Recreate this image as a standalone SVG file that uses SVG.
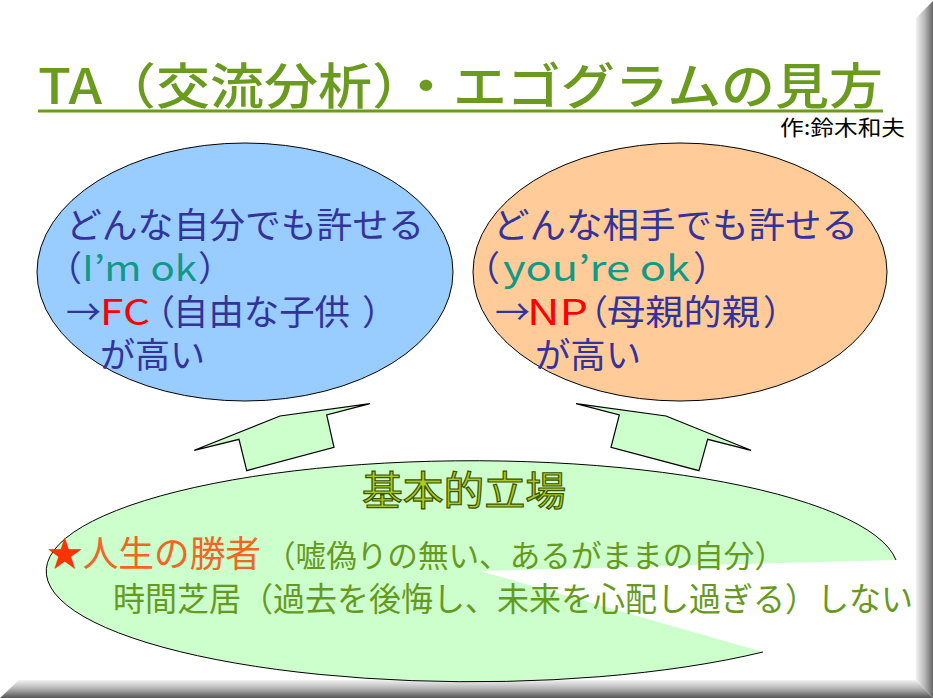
<svg xmlns="http://www.w3.org/2000/svg" width="933" height="698" viewBox="0 0 933 698">
<defs>
<linearGradient id="gR" x1="0" y1="0" x2="1" y2="0">
<stop offset="0" stop-color="#f2f2f2"/><stop offset="0.5" stop-color="#b8b8b8"/><stop offset="1" stop-color="#666"/>
</linearGradient>
<linearGradient id="gB" x1="0" y1="0" x2="0" y2="1">
<stop offset="0" stop-color="#f2f2f2"/><stop offset="0.5" stop-color="#b0b0b0"/><stop offset="1" stop-color="#555"/>
</linearGradient>
</defs>
<style>
.jp{font-family:"Noto Sans CJK JP","Noto Sans",sans-serif;}
.b{font-size:35px;}
.node{stroke:#000;stroke-width:1;}
.blue{fill:#333399;}
.teal{fill:#119988;}
.red{fill:#ff0000;}
.grn{fill:#669a1e;}
.arrow{fill:#ccffcc;stroke:#000;stroke-width:1.2;stroke-linejoin:miter;}
</style>
<rect width="933" height="698" fill="#fff"/>
<!-- frame -->
<polygon points="916,18 933,1 933,698 916,680" fill="url(#gR)"/>
<polygon points="0,698 19,680 916,680 933,698" fill="url(#gB)"/>

<g id="title">
<text class="jp" x="38" y="104" font-size="49" font-weight="500" fill="#6a9b1e" textLength="845" lengthAdjust="spacingAndGlyphs">TA（交流分析）・エゴグラムの見方</text>
<line x1="38" y1="111" x2="883" y2="111" stroke="#6a9b1e" stroke-width="3"/>
<text class="jp" x="780" y="135" font-size="21" fill="#000" textLength="125" lengthAdjust="spacingAndGlyphs">作:鈴木和夫</text>
</g>

<g id="connectors">
<polygon class="arrow" points="246.7,470.7 239,439.3 194.3,450.3 280,416 370,403.7 326.7,415 334,447.3"/>
<polygon class="arrow" points="699,470.7 707.7,439.3 751,450.3 666,416 576,403.7 619.3,415 611,447.3"/>
</g>

<g id="node-imok">
<ellipse class="node" cx="245" cy="272" rx="208" ry="129" fill="#99ccff"/>
<text class="jp b blue" x="66" y="238" textLength="358" lengthAdjust="spacingAndGlyphs">どんな自分でも許せる</text>
<text class="jp b blue" x="47" y="281">（</text>
<text class="jp b teal" x="82" y="281" textLength="115" lengthAdjust="spacingAndGlyphs">I’m ok</text>
<text class="jp b blue" x="198" y="281">）</text>
<text class="jp b blue" x="66" y="325">→</text>
<text class="jp b red" x="100" y="325" textLength="50" lengthAdjust="spacingAndGlyphs">FC</text>
<text class="jp b blue" x="140" y="325">（</text>
<text class="jp b blue" x="173" y="325" textLength="177" lengthAdjust="spacingAndGlyphs">自由な子供</text>
<text class="jp b blue" x="362" y="325">）</text>
<text class="jp b blue" x="100" y="368" textLength="105" lengthAdjust="spacingAndGlyphs">が高い</text>
</g>

<g id="node-youreok">
<ellipse class="node" cx="680" cy="272" rx="207" ry="129" fill="#ffcc99"/>
<text class="jp b blue" x="493" y="238" textLength="365" lengthAdjust="spacingAndGlyphs">どんな相手でも許せる</text>
<text class="jp b blue" x="465" y="281">（</text>
<text class="jp b teal" x="503" y="281" textLength="187" lengthAdjust="spacingAndGlyphs">you’re ok</text>
<text class="jp b blue" x="693" y="281">）</text>
<text class="jp b blue" x="495" y="325">→</text>
<text class="jp b red" x="527" y="325" textLength="61" lengthAdjust="spacingAndGlyphs">NP</text>
<text class="jp b blue" x="573" y="325">（</text>
<text class="jp b blue" x="607" y="325" textLength="153" lengthAdjust="spacingAndGlyphs">母親的親</text>
<text class="jp b blue" x="763" y="325">）</text>
<text class="jp b blue" x="535" y="368" textLength="106" lengthAdjust="spacingAndGlyphs">が高い</text>
</g>

<g id="node-basic">
<path d="M 896,560 A 426 110.5 0 1 0 763,652 L 480,571 Z" fill="#ccffcc"/>
<path d="M 896,560 A 426 110.5 0 1 0 763,652" fill="none" stroke="#000" stroke-width="1"/>
<text class="jp" x="362" y="505" font-size="40" fill="#a8cc22" stroke="#3d5200" stroke-width="1.2" textLength="204" lengthAdjust="spacingAndGlyphs">基本的立場</text>
<text class="jp" x="47" y="567" font-size="36" textLength="214" lengthAdjust="spacingAndGlyphs"><tspan fill="#ff3300">★</tspan><tspan fill="#f26522">人生の勝者</tspan></text>
<text class="jp grn" x="265" y="567" font-size="31" textLength="520" lengthAdjust="spacingAndGlyphs">（嘘偽りの無い、あるがままの自分）</text>
<text class="jp grn" x="113" y="611" font-size="33" textLength="800" lengthAdjust="spacingAndGlyphs">時間芝居（過去を後悔し、未来を心配し過ぎる）しない</text>
</g>
</svg>
